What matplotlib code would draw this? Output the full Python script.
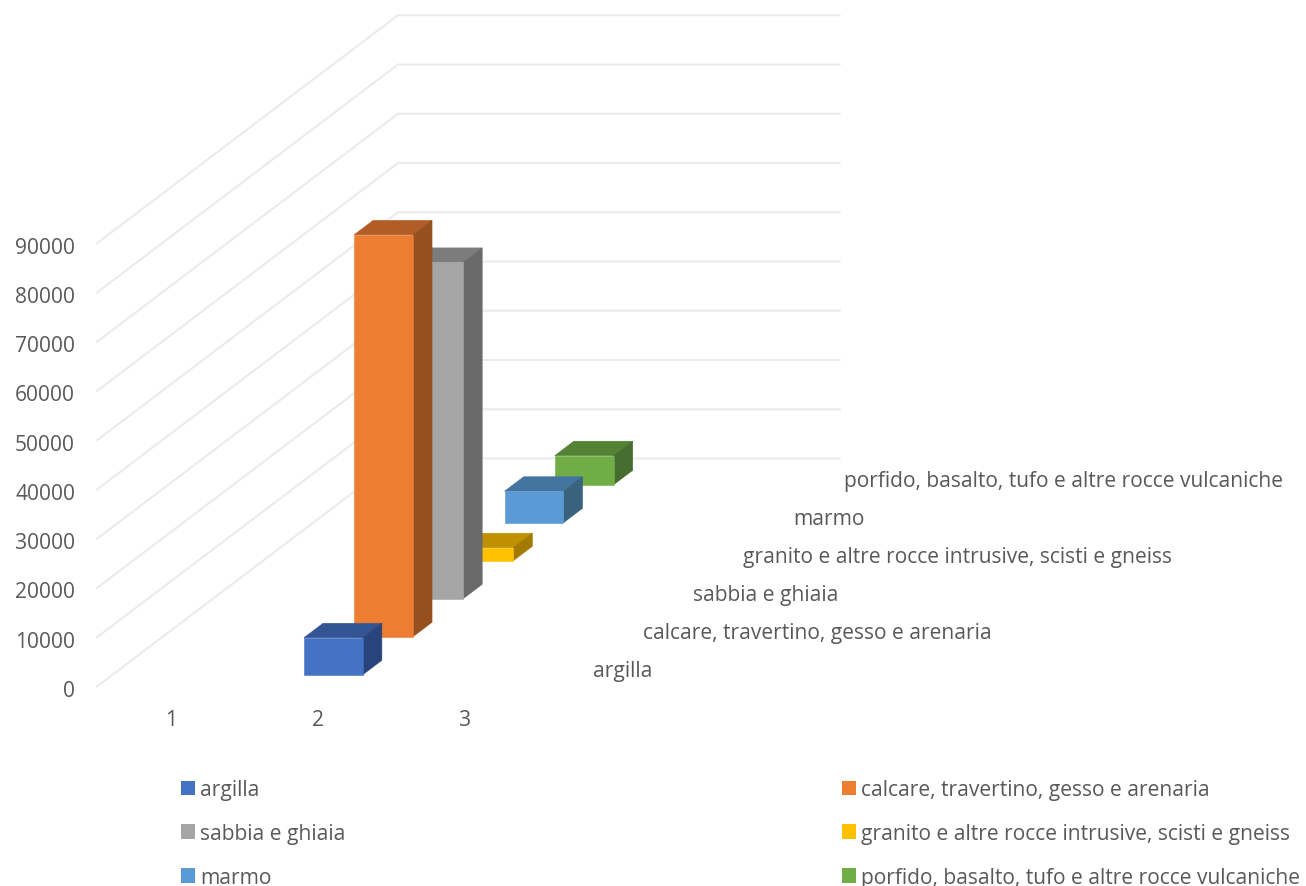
import matplotlib
matplotlib.use("Agg")
import matplotlib.pyplot as plt
from matplotlib.patches import Polygon, Patch

plt.rcParams['font.family'] = ['Open Sans', 'DejaVu Sans']

# ---- data ----
series_names = ["argilla", "calcare, travertino, gesso e arenaria", "sabbia e ghiaia",
                "granito e altre rocce intrusive, scisti e gneiss", "marmo",
                "porfido, basalto, tufo e altre rocce vulcaniche"]
series_values = [7500, 81600, 68300, 2650, 6400, 5900]
categories = ["1", "2", "3"]
series_category = 1  # index of the category that holds the data
value_ticks = [0, 10000, 20000, 30000, 40000, 50000, 60000, 70000, 80000, 90000]
front_colors = ["#4472C4", "#ED7D31", "#A5A5A5", "#FFC000", "#5B9BD5", "#70AD47"]
top_colors = ["#335593", "#B25D25", "#7C7C7C", "#BF9000", "#4475A0", "#548235"]
side_colors = ["#28447A", "#96501F", "#696969", "#A27A00", "#39627F", "#466D2D"]

# ---- projection of (category position, value, depth) to pixels ----
X0, Y0 = 97.0, 687.5
CAT_W = 147.2
VAL_PX = 49.25 / 10000
DEPTH_X = 301.0 / 6
DEPTH_Y = 38.0
BAR_W = 0.4
D_FRONT, D_BACK = 0.31, 0.69
TEXT = "#595959"
GRID = "#EBEBEB"
FS = 15.12


def project(c, v, d):
    return (X0 + c * CAT_W + d * DEPTH_X, Y0 - v * VAL_PX - d * DEPTH_Y)


fig = plt.figure(figsize=(13.06, 8.87), dpi=100)
ax = fig.add_axes([0, 0, 1, 1])
ax.set_xlim(0, 1306)
ax.set_ylim(887, 0)
ax.axis("off")

n_cat, n_ser = len(categories), len(series_names)

# gridlines: side wall + back wall
for v in value_ticks:
    pts = [project(0, v, 0), project(0, v, n_ser), project(n_cat, v, n_ser)]
    ax.plot(*zip(*pts), color=GRID, lw=1.5, solid_joinstyle="miter", zorder=1)
    x, y = project(0, v, 0)
    ax.text(x - 22, y + 4, str(v), ha="right", va="center", fontsize=FS, color=TEXT)

# bars, back to front
for s in reversed(range(n_ser)):
    v = series_values[s]
    l = series_category + 0.5 - BAR_W / 2
    r = series_category + 0.5 + BAR_W / 2
    df, db = s + D_FRONT, s + D_BACK
    z = 10 + (n_ser - s)
    faces = [
        ([project(l, v, df), project(r, v, df), project(r, v, db), project(l, v, db)], top_colors[s]),
        ([project(r, 0, df), project(r, v, df), project(r, v, db), project(r, 0, db)], side_colors[s]),
        ([project(l, 0, df), project(r, 0, df), project(r, v, df), project(l, v, df)], front_colors[s]),
    ]
    for pts, col in faces:
        ax.add_patch(Polygon(pts, closed=True, fc=col, ec=col, lw=0.4, zorder=z))

# category labels
for i, c in enumerate(categories):
    x, y = project(i + 0.5, 0, 0)
    ax.text(x, y + 33.5, c, ha="center", va="center", fontsize=FS, color=TEXT)

# depth-axis labels
for s, name in enumerate(series_names):
    x, y = project(n_cat, 0, s + 0.5)
    ax.text(x + 29, y + 3.5, name, ha="left", va="center", fontsize=FS, color=TEXT, zorder=30)

# legend (filled column by column)
order = [0, 2, 4, 1, 3, 5]
handles = [Patch(fc=front_colors[i], ec="none", label=series_names[i]) for i in order]
leg = ax.legend(handles=handles, ncol=2, frameon=False, fontsize=FS, labelcolor=TEXT,
                loc="upper left", bbox_to_anchor=(181, 780), bbox_transform=ax.transData,
                borderpad=0, borderaxespad=0, handlelength=0.667, handleheight=0.667,
                handletextpad=0.24, columnspacing=23.65, labelspacing=1.09)

fig.savefig("out.png", dpi=100, facecolor="white")
